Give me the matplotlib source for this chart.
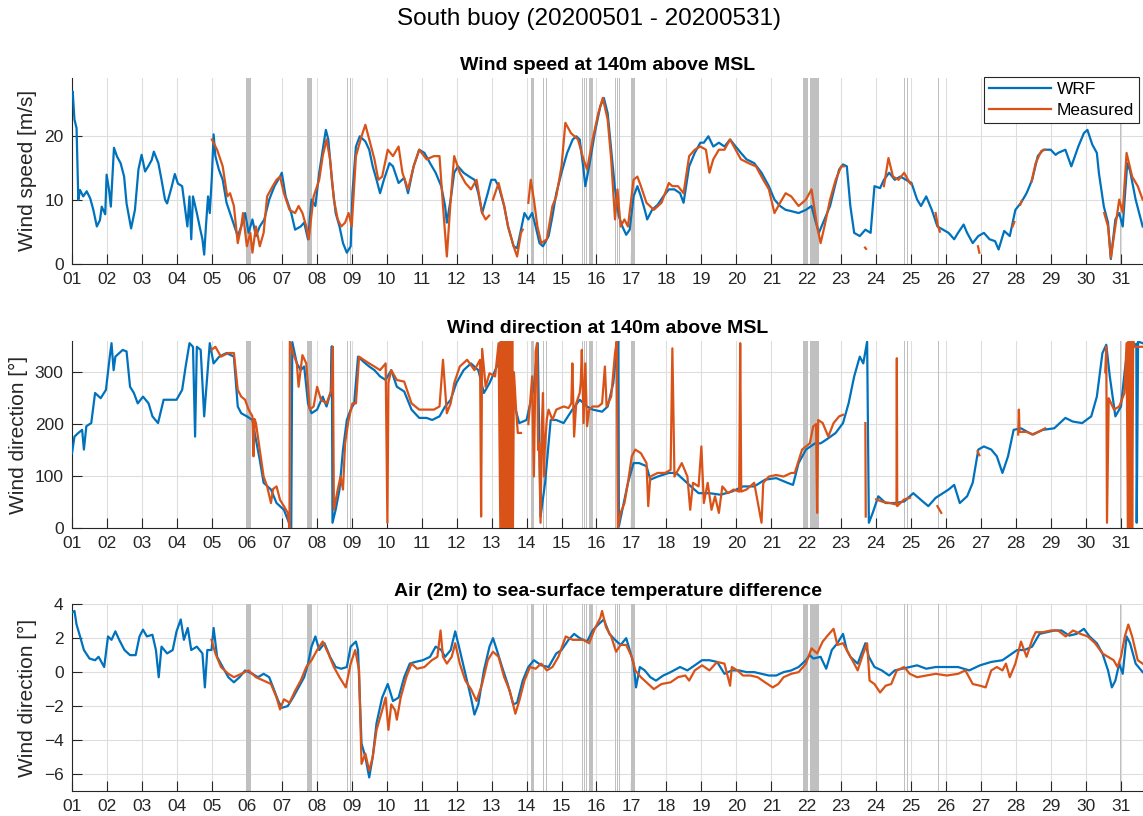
import numpy as np
import matplotlib
matplotlib.use('Agg')
import matplotlib.pyplot as plt

nan = np.nan

# ---- wind speed at 140 m [m/s] ----
ws_wrf_t = [1.0, 1.02, 1.07, 1.13, 1.18, 1.23, 1.32, 1.42, 1.52, 1.61, 1.71, 1.80, 1.85, 1.95, 1.99, 2.06, 2.11, 2.20,
            2.29, 2.39, 2.49, 2.56, 2.69, 2.80, 2.90, 2.99, 3.09, 3.18, 3.28, 3.34, 3.47, 3.56, 3.66, 3.72, 3.85, 3.94,
            4.03, 4.15, 4.25, 4.30, 4.36, 4.41, 4.46, 4.57, 4.65, 4.73, 4.78, 4.83, 4.89, 4.94, 5.0, 5.05, 5.10, 5.20,
            5.31, 5.42, 5.58, 5.74, 5.84, 5.95, 6.05, 6.16, 6.26, 6.37, 6.50, 6.64, 6.79, 6.95, 7.0, 7.11, 7.27, 7.38,
            7.54, 7.64, 7.75, 7.85, 7.96, 8.07, 8.17, 8.26, 8.33, 8.44, 8.54, 8.65, 8.75, 8.86, 8.97, 9.02, 9.12, 9.23,
            9.39, 9.50, 9.60, 9.71, 9.81, 9.92, 10.08, 10.18, 10.34, 10.50, 10.61, 10.77, 10.93, 11.08, 11.24, 11.40,
            11.56, 11.67, 11.72, 11.83, 11.93, 12.04, 12.20, 12.36, 12.51, 12.62, 12.73, 12.89, 12.99, 13.10, 13.20,
            13.36, 13.47, 13.63, 13.73, 13.84, 13.94, 14.05, 14.16, 14.26, 14.37, 14.47, 14.63, 14.74, 14.85, 15.0,
            15.16, 15.32, 15.42, 15.52, 15.63, 15.68, 15.79, 15.95, 16.11, 16.21, 16.32, 16.42, 16.53, 16.64, 16.74,
            16.85, 16.95, 17.06, 17.17, 17.27, 17.38, 17.45, 17.59, 17.75, 17.91, 18.07, 18.23, 18.39, 18.49, 18.65,
            18.81, 18.97, 19.07, 19.20, 19.34, 19.50, 19.66, 19.82, 19.98, 20.13, 20.29, 20.51, 20.72, 20.93, 21.09,
            21.25, 21.41, 21.57, 21.78, 21.99, 22.15, 22.25, 22.36, 22.52, 22.68, 22.84, 22.94, 23.05, 23.16, 23.26,
            23.37, 23.53, 23.69, 23.84, 23.95, 24.11, 24.22, 24.37, 24.53, 24.69, 24.85, 25.01, 25.17, 25.28, 25.43,
            25.59, 25.75, 25.91, 26.07, 26.23, 26.34, 26.50, 26.60, 26.76, 26.92, 27.08, 27.24, 27.40, 27.50, 27.66,
            27.82, 27.98, 28.14, 28.30, 28.46, 28.62, 28.78, 28.99, 29.13, 29.20, 29.41, 29.58, 29.78, 29.94, 30.04,
            30.18, 30.31, 30.37, 30.51, 30.63, 30.71, 30.84, 30.95, 31.05, 31.18, 31.26, 31.42, 31.62]
ws_wrf_v = [26.5, 26.9, 22.5, 21.2, 10.0, 11.5, 10.5, 11.3, 10.2, 8.4, 5.8, 6.8, 8.9, 7.7, 13.9, 11.5, 8.9, 18.1,
            16.7, 15.7, 13.6, 9.4, 5.5, 8.4, 14.7, 17.0, 14.4, 15.2, 16.2, 17.5, 15.7, 13.1, 10.0, 9.4, 12.0, 14.0,
            12.5, 12.1, 7.9, 5.8, 10.5, 3.8, 10.5, 7.9, 5.8, 3.8, 1.4, 5.8, 10.5, 7.9, 13.6, 20.2, 16.8, 14.7,
            13.1, 9.5, 6.9, 4.3, 5.8, 7.9, 4.8, 6.9, 4.3, 5.8, 6.9, 10.0, 12.1, 13.6, 14.2, 10.5, 7.9, 5.3,
            5.8, 6.4, 3.8, 10.0, 9.0, 14.2, 17.8, 20.9, 19.4, 12.6, 7.9, 5.8, 3.2, 1.7, 2.7, 11.0, 18.3, 19.9,
            19.1, 17.8, 15.2, 13.1, 11.0, 13.1, 15.7, 15.2, 12.6, 13.4, 11.0, 15.2, 17.8, 17.3, 15.7, 14.2,
            12.1, 9.0, 6.4, 10.0, 14.2, 15.2, 14.2, 13.6, 13.1, 11.0, 7.9, 11.0, 13.1, 13.1, 12.1,
            9.0, 5.8, 2.7, 2.4, 5.3, 7.9, 6.9, 7.9, 5.8, 3.2, 2.7, 4.3, 7.4, 11.0, 14.2,
            17.3, 19.4, 19.9, 19.4, 14.7, 12.1, 15.2, 20.4, 24.6, 25.9, 23.5, 17.8, 11.6, 7.4, 5.8,
            4.5, 5.3, 10.5, 12.1, 10.5, 8.4, 6.9, 8.4, 9.2, 10.5, 11.6, 11.6, 11.0, 9.5, 15.2,
            17.3, 18.9, 18.9, 19.9, 18.3, 18.9, 18.3, 19.4, 18.3, 17.3, 16.3, 15.7, 14.2, 12.1, 10.0,
            9.0, 8.4, 8.2, 7.9, 8.4, 9.0, 6.9, 4.8, 6.9, 9.0, 12.6, 14.7, 15.5, 15.2, 9.0,
            4.8, 4.3, 5.3, 4.8, 12.1, 11.8, 13.1, 14.2, 13.1, 13.6, 13.1, 12.6, 10.0, 9.0, 10.5,
            8.4, 5.8, 5.3, 4.8, 3.8, 4.8, 6.1, 4.8, 3.2, 4.3, 4.8, 3.8, 3.5, 2.2, 5.1,
            4.3, 8.4, 9.5, 11.0, 13.1, 16.8, 17.8, 17.8, 17.0, 17.3, 17.8, 15.2, 18.3, 20.4, 20.9,
            18.6, 17.3, 14.1, 8.9, 6.4, 0.7, 6.9, 7.9, 5.8, 15.7, 14.5, 10.0, 5.8]

ws_obs_t = [5.0, 5.15, 5.31, 5.44, 5.52, 5.63, 5.74, 5.84, 5.89, 6.0, 6.10, 6.16, 6.26, 6.37, 6.48, 6.58, 6.74,
            6.85, 6.95, 7.06, 7.22, 7.38, 7.48, 7.59, 7.70, 7.77, 7.91, 8.07, 8.17, 8.28, 8.38, 8.49, 8.60, 8.70,
            8.81, 8.91, 9.0, 9.12, 9.28, 9.39, 9.50, 9.65, 9.76, 9.87, 10.03, 10.18, 10.34, 10.45, 10.61, 10.77,
            10.93, 11.14, 11.35, 11.51, 11.61, 11.72, 11.83, 11.93, 12.09, 12.25, 12.41, 12.57, 12.73, 12.83, 12.93,
            12.98, 13.04, 13.20, 13.36, 13.47, 13.63, 13.73, 13.84, 13.89, 13.95, 14.05, 14.12, 14.21, 14.31, 14.42,
            14.58, 14.74, 14.85, 15.0, 15.11, 15.27, 15.47, 15.63, 15.73, 15.89, 16.05, 16.18, 16.32, 16.42, 16.53,
            16.60, 16.69, 16.80, 16.90, 17.06, 17.17, 17.27, 17.43, 17.64, 17.86, 18.07, 18.17, 18.33, 18.49, 18.65,
            18.81, 18.97, 19.13, 19.23, 19.34, 19.50, 19.66, 19.82, 19.98, 20.13, 20.35, 20.56, 20.77, 20.93, 21.09,
            21.25, 21.41, 21.57, 21.78, 21.99, 22.15, 22.31, 22.41, 22.52, 22.68, 22.84, 23.0, 23.07, 23.10, 23.68,
            23.71, 23.74, 24.22, 24.35, 24.48, 24.64, 24.80, 24.96, 25.0, 25.11, 25.14, 25.2, 25.70, 25.76, 25.82,
            25.9, 26.91, 26.95, 27.0, 27.90, 27.95, 28.0, 28.12, 28.16, 28.2, 28.44, 28.56, 28.72, 28.83, 28.9,
            30.52, 30.63, 30.71, 30.84, 30.95, 31.05, 31.16, 31.32, 31.48, 31.62]
ws_obs_v = [19.4, 17.8, 15.2, 10.5, 11.0, 9.0, 3.2, 5.8, 7.9, 2.7, 4.8, 1.7, 5.8, 2.7, 4.8, 10.5, 12.1,
            13.1, 13.6, 11.0, 8.4, 7.9, 9.0, 7.9, 5.8, 3.8, 10.5, 13.1, 16.8, 19.4, 16.3, 10.0, 6.9, 5.8,
            6.4, 7.9, 5.8, 16.8, 19.9, 21.7, 19.4, 16.3, 13.1, 13.6, 17.8, 16.8, 18.3, 14.2, 11.6, 15.2,
            17.8, 16.3, 16.8, 16.8, 9.0, 1.1, 10.0, 16.8, 14.2, 12.6, 11.6, 13.1, 7.9, 6.9, 7.5,
            nan, 10.0, 12.6, 9.0, 5.8, 2.7, 1.1, 4.8, 5.3, nan, 9.5, 13.1, 10.0, 5.8, 3.2,
            3.8, 9.0, 10.5, 15.2, 22.0, 20.4, 19.4, 16.3, 14.7, 19.4, 23.5, 25.9, 22.5, 16.3, 6.9,
            11.6, 5.8, 6.9, 5.8, 13.1, 13.6, 12.1, 9.5, 8.4, 9.5, 12.6, 12.1, 12.1, 11.0, 16.8,
            17.8, 18.3, 17.8, 14.2, 16.3, 17.8, 17.8, 19.4, 17.8, 16.3, 15.7, 15.2, 13.1, 11.6, 7.9,
            9.5, 11.0, 10.5, 9.0, 10.0, 11.6, 5.8, 3.2, 5.8, 10.0, 13.1, 15.2, 15.2, nan, 2.5,
            2.3, nan, 12.1, 16.5, 13.6, 13.1, 14.2, 12.6, 12.4, nan, 10.8, nan, 7.9, 6.0, 5.0,
            nan, 2.7, 1.7, nan, 5.8, 6.5, nan, 9.2, 9.8, nan, 12.8, 15.7, 17.6, 17.8, nan,
            7.9, 5.8, 0.9, 5.8, 10.0, 8.0, 17.3, 13.6, 12.1, 10.0]

# ---- wind direction at 140 m [deg] ----
wd_wrf_t = [1.0, 1.07, 1.18, 1.29, 1.34, 1.41, 1.55, 1.66, 1.82, 1.97, 2.08, 2.13, 2.19, 2.24, 2.45, 2.56, 2.66,
            2.77, 2.88, 3.03, 3.19, 3.30, 3.46, 3.62, 3.78, 3.99, 4.15, 4.25, 4.36, 4.46, 4.52, 4.57, 4.68, 4.78,
            4.83, 4.94, 5.05, 5.21, 5.42, 5.63, 5.74, 5.84, 6.0, 6.16, 6.26, 6.37, 6.48, 6.69, 6.85, 7.06, 7.17,
            7.27, 7.30, 7.43, 7.54, 7.64, 7.75, 7.85, 8.01, 8.17, 8.28, 8.40, 8.43, 8.45, 8.54, 8.65, 8.75, 8.86,
            8.97, 9.07, 9.18, 9.34, 9.50, 9.65, 9.81, 9.97, 10.13, 10.29, 10.50, 10.71, 10.93, 11.14, 11.30, 11.51,
            11.67, 11.83, 11.99, 12.20, 12.41, 12.62, 12.78, 12.94, 13.15, 13.26, 13.40, 13.60, 13.79, 14.0, 14.21,
            14.32, 14.40, 14.53, 14.69, 14.85, 15.06, 15.31, 15.52, 15.73, 15.89, 16.16, 16.32, 16.48, 16.58, 16.62,
            16.64, 16.74, 16.90, 17.06, 17.22, 17.43, 17.54, 17.75, 18.07, 18.28, 18.49, 18.70, 18.92, 19.23, 19.55,
            19.87, 20.19, 20.51, 20.82, 21.14, 21.46, 21.62, 21.78, 21.99, 22.25, 22.41, 22.57, 22.84, 23.05, 23.21,
            23.37, 23.53, 23.63, 23.74, 23.79, 23.90, 24.06, 24.27, 24.53, 24.80, 25.06, 25.28, 25.49, 25.70, 25.91,
            26.07, 26.23, 26.39, 26.60, 26.76, 26.92, 27.08, 27.29, 27.45, 27.61, 27.77, 27.93, 28.14, 28.46, 28.77,
            29.09, 29.41, 29.62, 29.89, 30.15, 30.31, 30.47, 30.58, 30.68, 30.84, 31.0, 31.11, 31.21, 31.37, 31.44,
            31.45, 31.49, 31.62]
wd_wrf_v = [144, 176, 183, 189, 151, 196, 202, 260, 250, 266, 330, 356, 304, 330, 343, 340, 272,
            260, 240, 253, 240, 215, 202, 247, 247, 247, 266, 311, 356, 349, 176, 349, 343, 215,
            260, 356, 317, 330, 337, 330, 234, 221, 215, 208, 170, 131, 87, 74, 48, 35, 16,
            0, 358, 317, 304, 311, 240, 221, 228, 253, 234, 262, 350, 10, 35, 74, 151, 208,
            228, 240, 330, 320, 311, 304, 292, 285, 304, 272, 263, 228, 212, 212, 208, 215,
            234, 247, 279, 304, 317, 304, 260, 279, 311, 359, 330, 250, 202, 208, 272,
            356, 22, 87, 208, 208, 202, 228, 247, 234, 228, 224, 234, 279, 349, 360,
            3, 35, 87, 125, 125, 119, 93, 99, 106, 106, 93, 80, 67, 67, 64,
            70, 80, 80, 93, 96, 87, 83, 125, 151, 163, 163, 170, 183, 202, 240,
            292, 330, 317, 359, 10, 29, 61, 48, 48, 51, 67, 54, 42, 58, 67,
            74, 83, 48, 61, 87, 151, 157, 151, 138, 106, 138, 189, 192, 180, 189,
            192, 212, 205, 202, 215, 253, 337, 353, 292, 215, 234, 304, 356, 349, 355,
            10, 359, 356]

wd_obs_t = [4.99, 5.10, 5.26, 5.47, 5.63, 5.74, 5.84, 5.95, 6.05, 6.16, 6.19, 6.22, 6.26, 6.37, 6.48, 6.58,
            6.69, 6.75, 6.85, 6.95, 7.06, 7.17, 7.22, 7.23, 7.32, 7.43, 7.48, 7.59, 7.70, 7.80, 7.91, 8.01, 8.12,
            8.28, 8.42, 8.46, 8.49, 8.60, 8.68, 8.75, 8.81, 8.91, 9.02, 9.12, 9.21, 9.34, 9.50, 9.65, 9.81, 9.97,
            10.02, 10.05, 10.13, 10.29, 10.50, 10.71, 10.93, 11.14, 11.35, 11.51, 11.61, 11.72, 11.83, 11.93,
            12.09, 12.30, 12.51, 12.67, 12.70, 12.73, 12.83, 12.94, 13.10, 13.20, 13.25, 13.27, 13.29, 13.31,
            13.33, 13.35, 13.37, 13.39, 13.41, 13.43, 13.45, 13.47, 13.49, 13.51, 13.53, 13.55, 13.57, 13.59,
            13.61, 13.64, 13.70, 13.75, 13.84, 13.90, 14.05, 14.10, 14.16, 14.21, 14.26, 14.30, 14.33, 14.36,
            14.40, 14.44, 14.47, 14.50, 14.52, 14.58, 14.63, 14.74, 14.85, 15.06, 15.20, 15.28, 15.31, 15.36,
            15.42, 15.52, 15.55, 15.58, 15.63, 15.68, 15.73, 15.79, 15.89, 16.05, 16.16, 16.24, 16.29, 16.42,
            16.53, 16.58, 16.61, 16.69, 16.80, 16.90, 17.01, 17.11, 17.27, 17.43, 17.48, 17.54, 17.75, 17.96,
            18.12, 18.17, 18.23, 18.39, 18.44, 18.60, 18.68, 18.76, 18.92, 19.00, 19.07, 19.18, 19.29, 19.39,
            19.50, 19.60, 19.76, 19.92, 20.08, 20.11, 20.14, 20.29, 20.51, 20.72, 20.77, 20.93, 21.14, 21.35,
            21.57, 21.67, 21.88, 22.10, 22.20, 22.28, 22.31, 22.34, 22.47, 22.63, 22.78, 22.94, 23.05, 23.10,
            23.69, 23.70, 23.75, 24.00, 24.20, 24.40, 24.58, 24.59, 24.60, 24.80, 24.96, 25.0, 25.75, 25.86,
            25.9, 26.90, 26.95, 27.0, 28.06, 28.08, 28.10, 28.30, 28.50, 28.83, 28.9, 30.55, 30.58, 30.60,
            30.65, 30.80, 30.95, 31.10, 31.16, 31.20, 31.22, 31.24, 31.26, 31.28, 31.30, 31.32, 31.35, 31.38,
            31.42, 31.62]
wd_obs_v = [343, 349, 330, 337, 337, 266, 253, 247, 228, 215, 138, 210, 202, 151, 99, 80,
            48, 75, 80, 54, 42, 29, 0, 359, 337, 317, 272, 333, 317, 228, 234, 272, 247,
            240, 266, 349, 35, 74, 99, 74, 163, 208, 240, 240, 330, 324, 317, 311, 304, 317,
            10, 280, 304, 285, 282, 240, 228, 228, 228, 234, 324, 221, 240, 279,
            311, 324, 304, 324, 22, 345, 272, 298, 292, 356, 0, 360, 0, 360,
            0, 360, 0, 360, 0, 360, 0, 360, 0, 360, 0, 360, 0, 360,
            0, 300, 228, 183, 183, nan, 200, 240, 292, 99, 340, 356, 150, 163,
            10, 200, 260, 99, 150, 210, 228, 208, 228, 234, 231, 240, 317, 176,
            240, 260, 280, 343, 202, 317, 196, 228, 234, 234, 240, 311, 234, 253,
            337, 359, 0, 29, 48, 87, 138, 151, 144, 125, 42, 99, 106, 106,
            112, 346, 99, 119, 125, 99, 35, 87, 80, 157, 48, 87, 35, 61,
            29, 80, 67, 74, 70, 356, 70, 74, 87, 10, 87, 99, 102, 99,
            106, 106, 151, 163, 196, 200, 29, 208, 202, 176, 202, 215, 218, nan,
            202, 22, nan, 55, 50, 48, 45, 327, 42, 55, 58, nan, 42, 29,
            nan, 148, 140, nan, 180, 228, 185, 185, 180, 192, nan, 300, 349, 10,
            250, 228, 234, 260, 356, 0, 360, 0, 360, 0, 360, 0, 360, 349,
            349, 349]

# ---- air (2 m) minus sea-surface temperature ----
td_wrf_t = [1.0, 1.07, 1.13, 1.23, 1.34, 1.50, 1.66, 1.76, 1.92, 2.03, 2.13, 2.24, 2.35, 2.50, 2.66, 2.82, 2.93,
            3.03, 3.14, 3.30, 3.40, 3.48, 3.56, 3.72, 3.88, 3.99, 4.11, 4.20, 4.31, 4.41, 4.57, 4.73, 4.80, 4.87,
            4.99, 5.05, 5.15, 5.31, 5.47, 5.63, 5.79, 5.95, 6.16, 6.32, 6.48, 6.64, 6.79, 6.90, 7.0, 7.17, 7.32,
            7.48, 7.64, 7.75, 7.85, 7.96, 8.07, 8.22, 8.38, 8.54, 8.70, 8.86, 8.97, 9.12, 9.18, 9.28, 9.39, 9.50,
            9.60, 9.71, 9.87, 10.03, 10.18, 10.34, 10.50, 10.66, 10.82, 11.03, 11.24, 11.40, 11.56, 11.67, 11.83,
            11.96, 12.09, 12.25, 12.41, 12.51, 12.62, 12.78, 12.94, 13.04, 13.15, 13.30, 13.46, 13.62, 13.73, 13.89,
            14.05, 14.21, 14.42, 14.63, 14.85, 15.0, 15.20, 15.36, 15.52, 15.73, 15.89, 16.05, 16.21, 16.37, 16.53,
            16.69, 16.85, 16.95, 17.06, 17.13, 17.24, 17.38, 17.54, 17.70, 17.91, 18.12, 18.39, 18.60, 18.81,
            19.02, 19.23, 19.45, 19.66, 19.87, 20.08, 20.29, 20.51, 20.72, 20.93, 21.14, 21.35, 21.57, 21.78,
            21.99, 22.10, 22.20, 22.41, 22.57, 22.73, 22.89, 23.05, 23.16, 23.26, 23.47, 23.69, 23.79, 23.95,
            24.16, 24.37, 24.53, 24.75, 24.96, 25.17, 25.43, 25.70, 26.02, 26.34, 26.66, 26.97, 27.29, 27.61,
            27.82, 28.03, 28.24, 28.46, 28.67, 28.88, 29.09, 29.30, 29.52, 29.73, 29.94, 30.10, 30.31, 30.47,
            30.63, 30.74, 30.84, 30.95, 31.05, 31.16, 31.26, 31.42, 31.62]
td_wrf_v = [3.5, 3.6, 2.8, 2.1, 1.3, 0.8, 0.7, 0.9, 0.3, 2.1, 1.9, 2.4, 1.9, 1.3, 1.0, 1.0, 2.1,
            2.5, 2.1, 2.2, 1.3, -0.3, 1.5, 1.1, 1.3, 2.4, 3.1, 1.9, 2.6, 1.3, 1.5, 1.1, -0.9, 1.3,
            1.3, 2.6, 0.9, 0.3, -0.3, -0.6, -0.3, 0.1, -0.1, -0.3, -0.1, -0.3, -1.1, -1.7, -2.1, -2.0, -1.5,
            -0.9, -0.3, 0.5, 1.5, 2.1, 1.3, 1.7, 0.9, 0.3, 0.2, 0.3, 1.5, 1.8, 1.3, -4.2, -5.0, -6.2,
            -5.0, -3.0, -1.5, -0.7, -1.7, -1.5, -0.3, 0.5, 0.6, 0.7, 0.9, 1.5, 1.3, 0.9, 1.3,
            2.4, 1.3, -0.1, -1.5, -2.5, -1.9, 0.1, 1.5, 2.0, 1.3, 0.3, -0.7, -1.9, -1.8, -0.5,
            0.3, 0.7, 0.4, 0.3, 1.1, 1.3, 1.9, 2.25, 2.0, 1.8, 2.45, 2.8, 3.1, 2.25, 1.9,
            1.6, 2.0, 1.3, 0.5, -0.9, 0.3, 0.1, -0.3, -0.5, -0.2, 0.0, 0.3, 0.1, 0.4,
            0.7, 0.7, 0.6, -0.1, 0.1, 0.1, 0.0, 0.0, -0.1, -0.2, -0.2, 0.0, 0.1, 0.3,
            0.7, 1.0, 0.8, 0.9, 0.2, 1.3, 1.7, 2.25, 1.3, 0.9, 0.5, 1.7, 0.9, 0.3,
            0.1, -0.2, 0.1, 0.2, 0.3, 0.4, 0.2, 0.3, 0.3, 0.3, 0.1, 0.4, 0.6, 0.7,
            1.0, 1.3, 1.3, 1.5, 2.25, 2.35, 2.45, 2.45, 2.15, 2.25, 2.55, 2.1, 1.7, 1.1,
            0.1, -0.9, -0.5, 0.5, -0.1, 2.1, 1.7, 0.5, 0.0]

td_obs_t = [4.99, 5.10, 5.26, 5.47, 5.63, 5.84, 6.05, 6.26, 6.48, 6.69, 6.85, 6.95, 7.06, 7.22, 7.38, 7.54,
            7.70, 7.85, 8.01, 8.17, 8.33, 8.49, 8.65, 8.83, 8.97, 9.10, 9.21, 9.28, 9.39, 9.50, 9.60, 9.71,
            9.87, 9.97, 10.05, 10.13, 10.24, 10.29, 10.40, 10.56, 10.71, 10.87, 11.08, 11.29, 11.45, 11.54, 11.61,
            11.72, 11.86, 11.96, 12.09, 12.25, 12.41, 12.57, 12.73, 12.89, 13.04, 13.20, 13.36, 13.52, 13.68,
            13.79, 13.94, 14.10, 14.26, 14.42, 14.58, 14.74, 14.91, 15.12, 15.32, 15.42, 15.63, 15.79, 15.95,
            16.11, 16.16, 16.27, 16.42, 16.56, 16.69, 16.85, 17.01, 17.11, 17.27, 17.48, 17.64, 17.86, 18.12,
            18.33, 18.54, 18.65, 18.81, 19.02, 19.23, 19.45, 19.66, 19.82, 19.87, 20.03, 20.19, 20.40, 20.61,
            20.82, 21.04, 21.20, 21.35, 21.57, 21.78, 21.99, 22.15, 22.31, 22.47, 22.63, 22.78, 22.89, 23.05,
            23.21, 23.37, 23.47, 23.63, 23.74, 23.81, 23.95, 24.11, 24.27, 24.43, 24.59, 24.80, 24.96, 25.17,
            25.43, 25.70, 26.02, 26.34, 26.55, 26.76, 26.97, 27.13, 27.29, 27.45, 27.61, 27.71, 27.82, 27.98,
            28.14, 28.30, 28.46, 28.56, 28.77, 28.99, 29.20, 29.42, 29.63, 29.84, 30.05, 30.26, 30.47, 30.63,
            30.79, 30.90, 31.0, 31.11, 31.21, 31.32, 31.48, 31.62]
td_obs_v = [1.9, 1.1, 0.3, -0.1, -0.3, -0.1, 0.1, -0.3, -0.5, -0.7, -1.5, -2.2, -1.6, -1.8, -1.1, -0.5,
            0.3, 0.7, 1.3, 1.8, 1.1, 0.3, -0.3, -0.9, 0.5, 1.3, 0.1, -5.4, -4.8, -5.8, -5.0, -3.4,
            -2.25, -1.5, -3.4, -1.9, -2.25, -2.8, -1.5, -0.3, 0.5, 0.2, 0.3, 0.7, 0.9, 2.45, 0.9,
            0.5, 0.9, 1.7, 0.5, -0.5, -1.0, -1.7, -0.7, 0.7, 1.2, 0.9, -0.3, -1.1, -2.45,
            -1.7, -0.5, 0.3, 0.2, 0.5, 0.1, 0.3, 0.9, 2.1, 1.9, 1.9, 1.9, 1.7, 2.55,
            3.2, 3.6, 2.65, 2.1, 1.2, 1.6, 1.6, 0.9, 0.1, -0.3, -0.7, -1.0, -0.7, -0.6,
            -0.3, -0.2, -0.5, 0.1, 0.4, 0.1, 0.6, 0.5, -0.8, 0.3, 0.1, -0.2, -0.2, -0.3,
            -0.6, -0.9, -0.7, -0.3, -0.1, 0.0, 0.5, 1.4, 1.1, 1.8, 2.2, 2.55, 1.6, 1.7,
            1.1, 0.5, 0.1, 1.1, 1.7, -0.5, -0.7, -1.2, -0.8, -0.7, 0.1, 0.3, -0.1, -0.3,
            -0.2, -0.1, -0.2, -0.1, 0.1, -0.7, -0.8, -0.9, 0.1, 0.3, 0.1, 0.5, -0.3, 0.5,
            1.8, 0.9, 1.9, 2.35, 2.35, 2.45, 2.45, 2.1, 2.45, 2.25, 2.1, 1.7, 1.1, 0.9,
            0.7, 0.3, 0.9, 2.1, 2.8, 2.1, 0.7, 0.5]

# periods flagged in the buoy record (start, end) in day of month
flag_start = [5.98, 7.73, 8.87, 8.94, 14.12, 14.46, 14.55, 15.59, 15.64, 15.70, 15.75, 15.80, 16.53, 16.59,
              16.65, 16.99, 21.91, 22.11, 24.79, 24.89, 25.77, 30.97]
flag_end = [6.12, 7.85, 8.90, 8.97, 14.22, 14.49, 14.58, 15.62, 15.67, 15.73, 15.77, 15.91, 16.56, 16.62,
            16.68, 17.11, 22.06, 22.37, 24.82, 24.92, 25.80, 31.00]

days = list(range(1, 32))
day_labels = ['%02d' % d for d in days]

plt.rcParams['font.family'] = ['Liberation Sans', 'DejaVu Sans']
dark = '#262626'
c_wrf = '#0072BD'
c_obs = '#D95319'

fig = plt.figure(figsize=(11.43, 8.16), dpi=100)
fig.suptitle('South buoy (20200501 - 20200531)', x=0.515, y=0.99, fontsize=17.5, va='top')

panels = [
    dict(pos=[0.063, 0.677, 0.937, 0.2273], title='Wind speed at 140m above MSL',
         ylabel='Wind speed [m/s]', ylim=(0, 29), yticks=[0, 10, 20],
         wrf=(ws_wrf_t, ws_wrf_v), obs=(ws_obs_t, ws_obs_v)),
    dict(pos=[0.063, 0.353, 0.937, 0.229], title='Wind direction at 140m above MSL',
         ylabel='Wind direction [°]', ylim=(0, 360), yticks=[0, 100, 200, 300],
         wrf=(wd_wrf_t, wd_wrf_v), obs=(wd_obs_t, wd_obs_v)),
    dict(pos=[0.063, 0.0306, 0.937, 0.229], title='Air (2m) to sea-surface temperature difference',
         ylabel='Wind direction [°]', ylim=(-7, 4), yticks=[-6, -4, -2, 0, 2, 4],
         wrf=(td_wrf_t, td_wrf_v), obs=(td_obs_t, td_obs_v)),
]

for i, p in enumerate(panels):
    ax = fig.add_axes(p['pos'])
    for s, e in zip(flag_start, flag_end):
        ax.axvspan(s, e, color='#c0c0c0', lw=0, zorder=1)
    l1, = ax.plot(p['wrf'][0], p['wrf'][1], color=c_wrf, lw=1.6, zorder=3, label='WRF')
    l2, = ax.plot(p['obs'][0], p['obs'][1], color=c_obs, lw=1.6, zorder=4, label='Measured')
    ax.set_xlim(1, 31.63)
    ax.set_ylim(*p['ylim'])
    ax.set_xticks(days)
    ax.set_xticklabels(day_labels)
    ax.set_yticks(p['yticks'])
    ax.grid(True, color='#dedede', lw=0.8, zorder=0)
    ax.set_axisbelow(True)
    for side in ['top', 'right']:
        ax.spines[side].set_visible(False)
    for side in ['left', 'bottom']:
        ax.spines[side].set_color(dark)
        ax.spines[side].set_linewidth(0.8)
    ax.tick_params(direction='in', length=7, width=0.8, color=dark, labelcolor=dark, labelsize=12.5, pad=6)
    ax.set_title(p['title'], fontsize=14, fontweight='bold', pad=6)
    ax.set_ylabel(p['ylabel'], fontsize=15, color=dark, labelpad=5)
    if i == 0:
        ax.legend(handles=[l1, l2], loc='upper right', bbox_to_anchor=(0.9965, 0.9056),
                  bbox_transform=fig.transFigure, fontsize=12.5, handlelength=3.6, frameon=True,
                  fancybox=False, edgecolor=dark, framealpha=1, borderpad=0.3, labelspacing=0.3,
                  handletextpad=0.3, borderaxespad=0)
        ax.get_legend().get_frame().set_linewidth(0.8)

fig.savefig('out.png', dpi=100)
